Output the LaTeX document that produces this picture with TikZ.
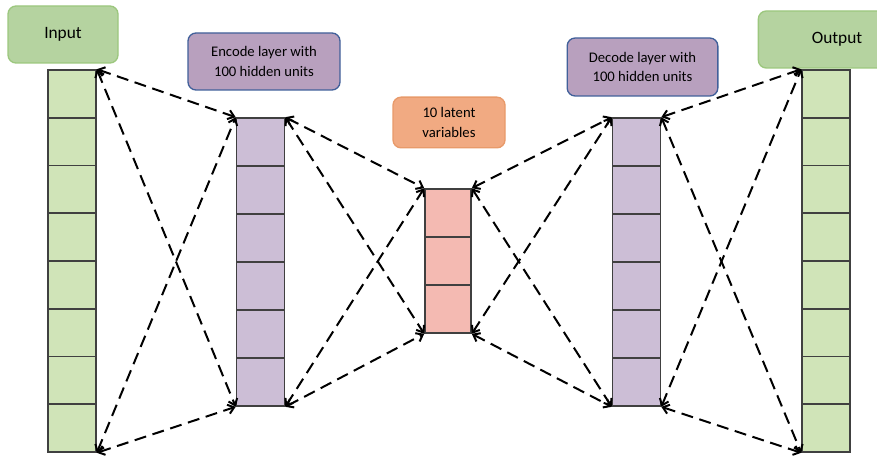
\documentclass[tikz,border=0pt]{standalone}
\usepackage{fontspec}
\setmainfont{Carlito}
\usetikzlibrary{arrows.meta, calc}

\definecolor{boxgreen}{HTML}{B5D3A0}
\definecolor{edgegreen}{HTML}{9CC77E}
\definecolor{boxpurple}{HTML}{B8A0BE}
\definecolor{edgeblue}{HTML}{41609A}
\definecolor{boxorange}{HTML}{F1AA82}
\definecolor{edgeorange}{HTML}{E89A6A}
\definecolor{cellgreen}{HTML}{D0E4B8}
\definecolor{cellpurple}{HTML}{CCBED6}
\definecolor{cellpink}{HTML}{F4BAB2}

\begin{document}
\begin{tikzpicture}
[x=0.75pt, y=-0.75pt,
 cell/.style = {draw=black!75, line width=1.2pt, minimum width=36pt, inner sep=0pt},
 tag/.style = {rounded corners=6pt, line width=1pt, inner sep=0pt, align=center,
   font=\fontsize{11}{14.5}\selectfont},
 link/.style = {line width=1.5pt, dash pattern=on 9pt off 5pt,
   {Straight Barb[length=4.5pt, width=7pt]}-{Straight Barb[length=4.5pt, width=7pt]}}]
\useasboundingbox (0,0) rectangle (877,456);

% label boxes
\node [tag, fill=boxgreen, draw=edgegreen, minimum width=82.5pt, minimum height=42.75pt,
  font=\fontsize{13}{15}\selectfont] (input) at (63, 34.5) {Input};
\node [tag, fill=boxpurple, draw=edgeblue, minimum width=114pt, minimum height=42.75pt]
  (encode) at (264, 61.5) {Encode layer with\\100 hidden units};
\node [tag, fill=boxorange, draw=edgeorange, minimum width=84pt, minimum height=38pt]
  (latent) at (449, 122.5) {10 latent\\variables};
\node [tag, fill=boxpurple, draw=edgeblue, minimum width=113pt, minimum height=43.5pt]
  (decode) at (642.5, 67) {Decode layer with\\100 hidden units};
\node [tag, fill=boxgreen, draw=edgegreen, minimum width=118pt, minimum height=42.75pt,
  font=\fontsize{13}{15}\selectfont] (output) at (837, 39.5) {Output};

% layers
\foreach \i in {1,...,8}{
	\node [cell, fill=cellgreen, minimum height=35.8pt] (in \i) at ({72}, {70+23.875+(\i-1)*47.75}) {};
	\node [cell, fill=cellgreen, minimum height=35.8pt] (out \i) at ({826}, {70+23.875+(\i-1)*47.75}) {};
}
\foreach \i in {1,...,6}{
	\node [cell, fill=cellpurple, minimum height=36pt] (enc \i) at ({260.5}, {118+24+(\i-1)*48}) {};
	\node [cell, fill=cellpurple, minimum height=36pt] (dec \i) at ({636.5}, {118+24+(\i-1)*48}) {};
}
\foreach \i in {1,...,3}{
	\node [cell, fill=cellpink, minimum width=34.5pt, minimum height=36pt] (lat \i) at ({448}, {189+24+(\i-1)*48}) {};
}

% connections
\foreach \a/\b/\m/\n in {in 8/enc 6/in 1/enc 1, enc 6/lat 3/enc 1/lat 1,
                        lat 3/dec 6/lat 1/dec 1, dec 6/out 8/dec 1/out 1}{
	\draw [link] (\m.north east) to (\n.north west);
	\draw [link] (\m.north east) to (\b.south west);
	\draw [link] (\a.south east) to (\n.north west);
	\draw [link] (\a.south east) to (\b.south west);
}
\end{tikzpicture}
\end{document}
